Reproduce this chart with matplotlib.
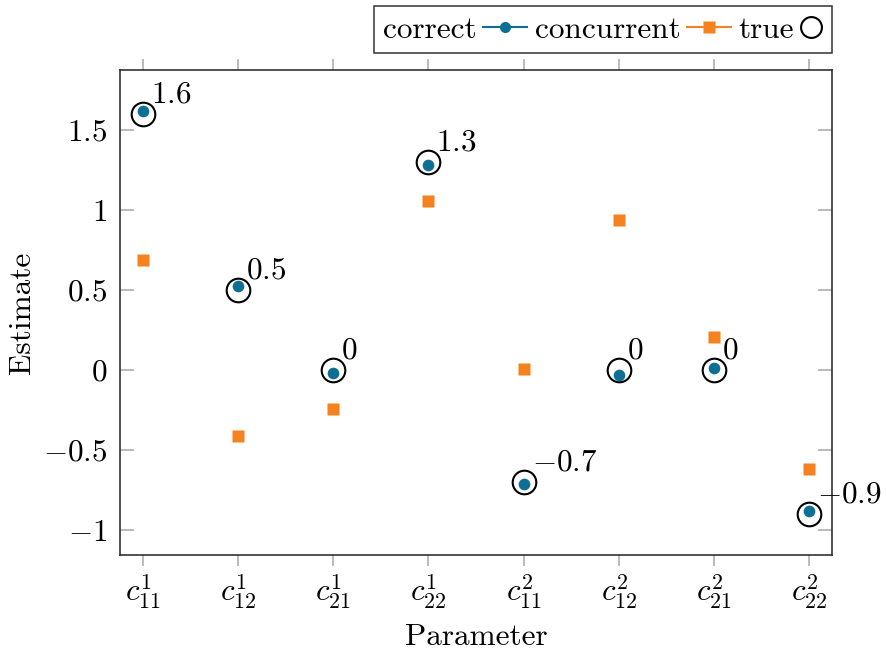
import numpy as np
import matplotlib.pyplot as plt
from matplotlib.lines import Line2D
from matplotlib.ticker import FuncFormatter

plt.rcParams['font.family'] = 'serif'
plt.rcParams['font.serif'] = ['cmr10', 'DejaVu Serif']
plt.rcParams['mathtext.fontset'] = 'cm'
plt.rcParams['axes.formatter.use_mathtext'] = True
plt.rcParams['axes.unicode_minus'] = True

params = [r'$c^1_{11}$', r'$c^1_{12}$', r'$c^1_{21}$', r'$c^1_{22}$',
          r'$c^2_{11}$', r'$c^2_{12}$', r'$c^2_{21}$', r'$c^2_{22}$']
true_vals = [1.6, 0.5, 0, 1.3, -0.7, 0, 0, -0.9]
blue_vals = [1.62, 0.525, -0.02, 1.28, -0.71, -0.03, 0.01, -0.88]
orange_vals = [0.69, -0.41, -0.245, 1.055, 0.005, 0.94, 0.205, -0.62]

c_blue = '#0e6f95'
c_orange = '#f5821f'
fs = 22.5

fig = plt.figure(figsize=(8.87, 6.55), dpi=100)
ax = fig.add_axes([0.1353, 0.1527, 0.938 - 0.1353, 0.8931 - 0.1527])

x = np.arange(len(params))
ax.plot(x, orange_vals, linestyle='none', marker='s', ms=8.8,
        color=c_orange, mec='none', zorder=3)
ax.plot(x, blue_vals, linestyle='none', marker='o', ms=8.4,
        color=c_blue, mec='none', zorder=3)
ax.plot(x, true_vals, linestyle='none', marker='o', ms=17, mfc='none',
        mec='black', mew=1.5, zorder=4)

for xi, v in zip(x, true_vals):
    ax.annotate(f'${v:g}$', (xi, v), xytext=(8, 6), textcoords='offset pixels',
                ha='left', va='bottom', fontsize=fs, zorder=5)

ax.set_xlim(-0.24, 7.24)
ax.set_ylim(-1.156, 1.875)
ax.set_xticks(x)
ax.set_xticklabels(params, fontsize=fs)
ax.set_yticks([-1, -0.5, 0, 0.5, 1, 1.5])
ax.yaxis.set_major_formatter(FuncFormatter(lambda v, p: f'${v:g}$'))
ax.tick_params(axis='y', labelsize=fs, direction='in', length=10,
               color='#a8a8a8', width=1.1, left=True, right=True, pad=9)
ax.tick_params(axis='x', labelsize=fs, direction='out', length=8,
               color='#a8a8a8', width=1.1, bottom=True, top=True, pad=5)
for s in ax.spines.values():
    s.set_linewidth(1.1)
    s.set_color('#222222')

ax.set_xlabel('Parameter', fontsize=fs, labelpad=8)
ax.set_ylabel('Estimate', fontsize=fs, labelpad=5)

handles = [
    Line2D([], [], color=c_blue, marker='o', ms=8, mec='none', lw=1.5),
    Line2D([], [], color=c_orange, marker='s', ms=8, mec='none', lw=1.5),
    Line2D([], [], color='black', marker='o', ms=15, mfc='none', mew=1.5,
           linestyle='none'),
]
leg = ax.legend(handles, ['correct', 'concurrent', 'true'], loc='lower right',
                bbox_to_anchor=(1.0, 1.035), ncol=3, markerfirst=False,
                fontsize=fs, frameon=True, fancybox=False, borderaxespad=0,
                handlelength=1.4, handletextpad=0.2, columnspacing=0.25,
                borderpad=0.3)
leg.get_frame().set_edgecolor('black')
leg.get_frame().set_linewidth(1.1)

# narrow the handle slot of the marker-only entry so the circle sits next to its text
circle_box = leg._legend_handle_box.get_children()[2].get_children()[0].get_children()[1]
circle_box.width = 0.72 * fs
for art in circle_box.get_children():
    if isinstance(art, Line2D):
        art.set_xdata(np.linspace(0, circle_box.width, len(art.get_xdata())))

fig.savefig('out.png', dpi=100)
